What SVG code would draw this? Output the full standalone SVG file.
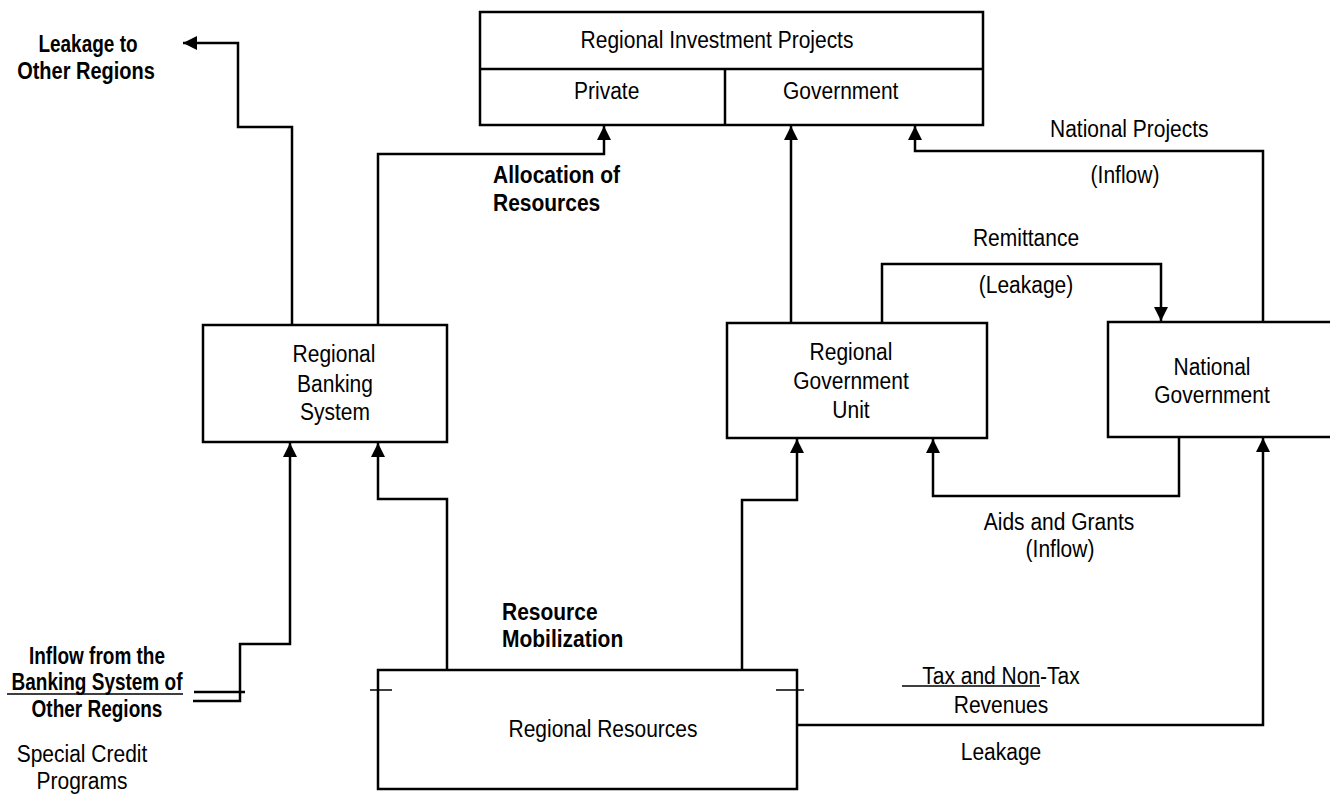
<svg xmlns="http://www.w3.org/2000/svg" width="1330" height="795" viewBox="0 0 1330 795">
<style>
.box{fill:#fff;stroke:#000;stroke-width:2.5}
.ln{fill:none;stroke:#000;stroke-width:2.5}
.thin{fill:none;stroke:#000;stroke-width:1.5}
text{font-family:"Liberation Sans",Arial,sans-serif;font-size:21px;fill:#000}
.c{text-anchor:middle}
.b{font-weight:bold}
.h{font-weight:bold;font-size:20px}
</style>
<defs>
<marker id="ah" viewBox="0 0 10 10" refX="10" refY="5" markerWidth="14" markerHeight="14" markerUnits="userSpaceOnUse" orient="auto">
<path d="M0,0 L10,5 L0,10 z" fill="#000"/>
</marker>
</defs>
<rect width="1330" height="795" fill="#fff"/>

<g id="regional-investment-projects">
<rect class="box" x="480" y="12" width="503" height="113"/>
<line class="ln" x1="480" y1="69" x2="983" y2="69"/>
<line class="ln" x1="725" y1="69" x2="725" y2="125"/>
<text class="c" transform="translate(717,48) scale(1,1.15)">Regional Investment Projects</text>
<text transform="translate(574,99) scale(1,1.15)">Private</text>
<text transform="translate(783,99) scale(1,1.15)">Government</text>
</g>

<g id="regional-banking-system">
<rect class="box" x="203" y="325" width="244" height="117"/>
<text class="c" transform="translate(334,362) scale(1,1.15)">Regional</text>
<text class="c" transform="translate(335,392) scale(1,1.15)">Banking</text>
<text class="c" transform="translate(335,420) scale(1,1.15)">System</text>
</g>

<g id="regional-government-unit">
<rect class="box" x="727" y="323" width="260" height="115"/>
<text class="c" transform="translate(851,360) scale(1,1.15)">Regional</text>
<text class="c" transform="translate(851,389) scale(1,1.15)">Government</text>
<text class="c" transform="translate(851,418) scale(1,1.15)">Unit</text>
</g>

<g id="national-government">
<rect class="box" x="1108" y="322" width="240" height="115"/>
<text class="c" transform="translate(1212,375) scale(1,1.15)">National</text>
<text class="c" transform="translate(1212,403) scale(1,1.15)">Government</text>
</g>

<g id="regional-resources">
<rect class="box" x="378" y="670" width="419" height="119"/>
<text class="c" transform="translate(603,737) scale(1,1.15)">Regional Resources</text>
</g>

<g id="connectors">
<path class="ln" d="M292,325 V127 H238 V43 H183" marker-end="url(#ah)"/>
<path class="ln" d="M378,325 V154 H604 V126" marker-end="url(#ah)"/>
<path class="ln" d="M791,323 V126" marker-end="url(#ah)"/>
<path class="ln" d="M1263,322 V151 H915 V126" marker-end="url(#ah)"/>
<path class="ln" d="M882,323 V264 H1161 V321" marker-end="url(#ah)"/>
<path class="ln" d="M1179,437 V496 H933 V439" marker-end="url(#ah)"/>
<path class="ln" d="M447,670 V499 H378 V443" marker-end="url(#ah)"/>
<path class="ln" d="M193,701 H240 V644 H290 V443" marker-end="url(#ah)"/>
<path class="ln" d="M194,692 H245"/>
<path class="ln" d="M742,670 V500 H797 V439" marker-end="url(#ah)"/>
<path class="ln" d="M797,725 H1263 V438" marker-end="url(#ah)"/>
<path class="thin" d="M370,690 H392 M776,690 H804 M902,686 H1040 M7,694 H183"/>
</g>

<g id="labels">
<text class="h c" transform="translate(88,52) scale(0.95,1.15)">Leakage to</text>
<text class="h c" transform="translate(86,79) scale(1,1.15)">Other Regions</text>
<text class="b" transform="translate(493,183) scale(1,1.15)">Allocation of</text>
<text class="b" transform="translate(493,211) scale(1,1.15)">Resources</text>
<text transform="translate(1050,137) scale(1,1.15)">National Projects</text>
<text class="c" transform="translate(1125,183) scale(1,1.15)">(Inflow)</text>
<text class="c" transform="translate(1026,246) scale(1,1.15)">Remittance</text>
<text class="c" transform="translate(1026,293) scale(1,1.15)">(Leakage)</text>
<text class="c" transform="translate(1059,530) scale(1,1.15)">Aids and Grants</text>
<text class="c" transform="translate(1060,557) scale(1,1.15)">(Inflow)</text>
<text class="b" transform="translate(502,620) scale(1,1.15)">Resource</text>
<text class="b" transform="translate(502,647) scale(1,1.15)">Mobilization</text>
<text class="c" transform="translate(1001,684) scale(1,1.15)">Tax and Non-Tax</text>
<text class="c" transform="translate(1001,713) scale(1,1.15)">Revenues</text>
<text class="c" transform="translate(1001,760) scale(1,1.15)">Leakage</text>
<text class="h c" transform="translate(97,664) scale(0.95,1.15)">Inflow from the</text>
<text class="h c" transform="translate(97,690) scale(0.95,1.15)">Banking System of</text>
<text class="h c" transform="translate(97,717) scale(0.95,1.15)">Other Regions</text>
<text class="c" transform="translate(82,762) scale(1,1.15)">Special Credit</text>
<text class="c" transform="translate(82,789) scale(1,1.15)">Programs</text>
</g>
</svg>
